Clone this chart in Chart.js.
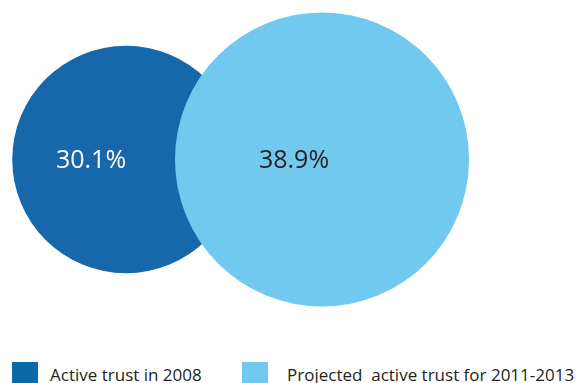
<!DOCTYPE html>
<html>
<head>
<meta charset="utf-8">
<script src="https://cdn.jsdelivr.net/npm/chart.js@4"></script>
<style>
  html, body { margin: 0; padding: 0; background: #fff; overflow: hidden; }
  #wrap { position: relative; width: 577px; height: 383px; }
  #chartBox { position: absolute; left: 0; top: 0; width: 577px; height: 319px; }
  .lg { position: absolute; font-family: "Open Sans", sans-serif; font-size: 17px; font-weight: 500; color: #231f20; white-space: pre; line-height: 1; }
  .sw { position: absolute; width: 26px; height: 24px; }
</style>
</head>
<body>
<div id="wrap">
  <div id="chartBox"><canvas id="c"></canvas></div>
  <div id="legend"></div>
</div>
<script>
// ---- data ----
const categories = ["Active trust in 2008", "Projected  active trust for 2011-2013"];
const values = [30.1, 38.9];
const valueLabels = ["30.1%", "38.9%"];
const colors = ["#1768ab", "#72c9ef"];
const legendColors = ["#0b6ba8", "#72c9ef"];
const labelColors = ["#ffffff", "#231f20"];

// radius in px per percentage point
const R_PER_UNIT = 3.78;

// let the bubbles use the full canvas as chart area (no auto-inset for bubble overflow)
Chart.BubbleController.prototype.getMaxOverflow = function () { return 0; };

const datasets = categories.map((cat, i) => ({
  label: cat,
  data: [{ x: i, y: 0 }],
  backgroundColor: colors[i],
  borderWidth: 0,
  hoverBorderWidth: 0,
  radius: () => values[i] * R_PER_UNIT,
  hoverRadius: 0,
  clip: false,
  order: categories.length - i
}));

const labelOffsets = [-35, -28];

const labelPlugin = {
  id: 'bubbleLabels',
  afterDatasetsDraw(chart) {
    const ctx = chart.ctx;
    ctx.save();
    ctx.font = '500 25px "Open Sans", sans-serif';
    ctx.textAlign = 'center';
    ctx.textBaseline = 'middle';
    chart.data.datasets.forEach((ds, i) => {
      const el = chart.getDatasetMeta(i).data[0];
      ctx.fillStyle = labelColors[i];
      ctx.fillText(valueLabels[i], el.x + labelOffsets[i], el.y + 1);
    });
    ctx.restore();
  }
};

new Chart(document.getElementById('c'), {
  type: 'bubble',
  data: { datasets },
  options: {
    responsive: true,
    maintainAspectRatio: false,
    animation: false,
    events: [],
    layout: { padding: 0 },
    plugins: { legend: { display: false }, tooltip: { enabled: false } },
    scales: {
      x: { type: 'linear', display: false, min: -0.643, max: 2.301 },
      y: { type: 'linear', display: false, min: -1, max: 1 }
    }
  },
  plugins: [labelPlugin]
});

// ---- legend ----
const legendPos = [{ box: 12, text: 50 }, { box: 242, text: 287 }];
const lg = document.getElementById('legend');
categories.forEach((cat, i) => {
  const sw = document.createElement('div');
  sw.className = 'sw';
  sw.style.left = legendPos[i].box + 'px';
  sw.style.top = '362px';
  sw.style.background = legendColors[i];
  lg.appendChild(sw);
  const t = document.createElement('div');
  t.className = 'lg';
  t.style.left = legendPos[i].text + 'px';
  t.style.top = '366px';
  t.textContent = cat;
  lg.appendChild(t);
});
</script>
</body>
</html>
